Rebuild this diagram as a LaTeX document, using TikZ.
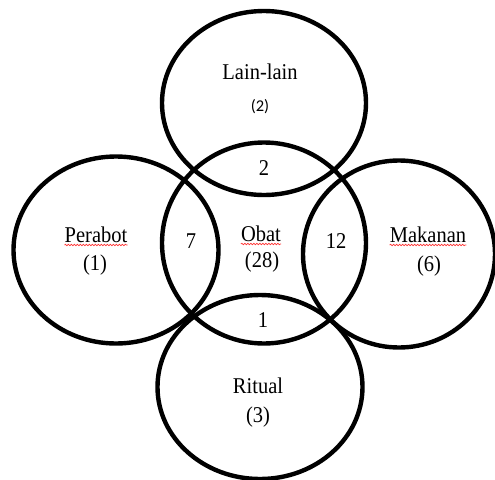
\documentclass[tikz,border=0pt]{standalone}
\usepackage{fontspec}
\usepackage{graphicx}
\setmainfont{Liberation Serif}
\newfontfamily\calib{Carlito}
\usetikzlibrary{shapes.geometric,decorations.pathmorphing}
\newcommand{\vtx}[1]{\scalebox{1}[1.1]{#1}}
\tikzset{
  venn/.style={draw=black, line width=4.4pt, ellipse, inner sep=0pt, fill=none},
  lbl/.style={anchor=base, inner sep=0pt, font=\fontsize{20.5}{24}\selectfont},
  sml/.style={anchor=base, inner sep=0pt, font=\calib\fontsize{16.5}{19}\selectfont},
  squig/.style={draw=red!80!white, line width=0.7pt, decorate,
    decoration={snake, amplitude=0.7pt, segment length=3pt}}
}
\begin{document}
\begin{tikzpicture}[x=1pt, y=-1pt]
\useasboundingbox (0,0) rectangle (495,479);
\clip (0,0) rectangle (495,479);
% circles
\node[venn, minimum width=204pt, minimum height=184pt] (lain) at (264,103) {};
\node[venn, minimum width=204pt, minimum height=201pt] (obat) at (264,243) {};
\node[venn, minimum width=205pt, minimum height=187pt] (perabot) at (116,250) {};
\node[venn, minimum width=192pt, minimum height=187pt] (makanan) at (399,254) {};
\node[venn, minimum width=205pt, minimum height=184pt] (ritual) at (260,387) {};
% labels
\node[lbl] (tlain) at (260,79) {\vtx{Lain-lain}};
\node[sml] (tlainn) at (260,111) {(2)};
\node[lbl] (tlo) at (264,175) {\vtx{2}};
\node[lbl] (tperabot) at (96,242) {\vtx{Perabot}};
\node[lbl] (tperabotn) at (95,270) {\vtx{(1)}};
\node[lbl] (tpo) at (191,248) {\vtx{7}};
\node[lbl] (tobat) at (261,241) {\vtx{Obat}};
\node[lbl] (tobatn) at (262,267) {\vtx{(28)}};
\node[lbl] (tmo) at (336,248) {\vtx{12}};
\node[lbl] (tmakanan) at (428,242) {\vtx{Makanan}};
\node[lbl] (tmakanann) at (429,271) {\vtx{(6)}};
\node[lbl] (tro) at (263,327) {\vtx{1}};
\node[lbl] (tritual) at (258,393) {\vtx{Ritual}};
\node[lbl] (tritualn) at (258,422) {\vtx{(3)}};
% spell-check underlines
\draw[squig] ([yshift=-3pt]tperabot.base west) -- ([yshift=-3pt]tperabot.base east);
\draw[squig] ([yshift=-3pt]tobat.base west) -- ([yshift=-3pt]tobat.base east);
\draw[squig] ([yshift=-3pt]tmakanan.base west) -- ([yshift=-3pt]tmakanan.base east);
\end{tikzpicture}
\end{document}
